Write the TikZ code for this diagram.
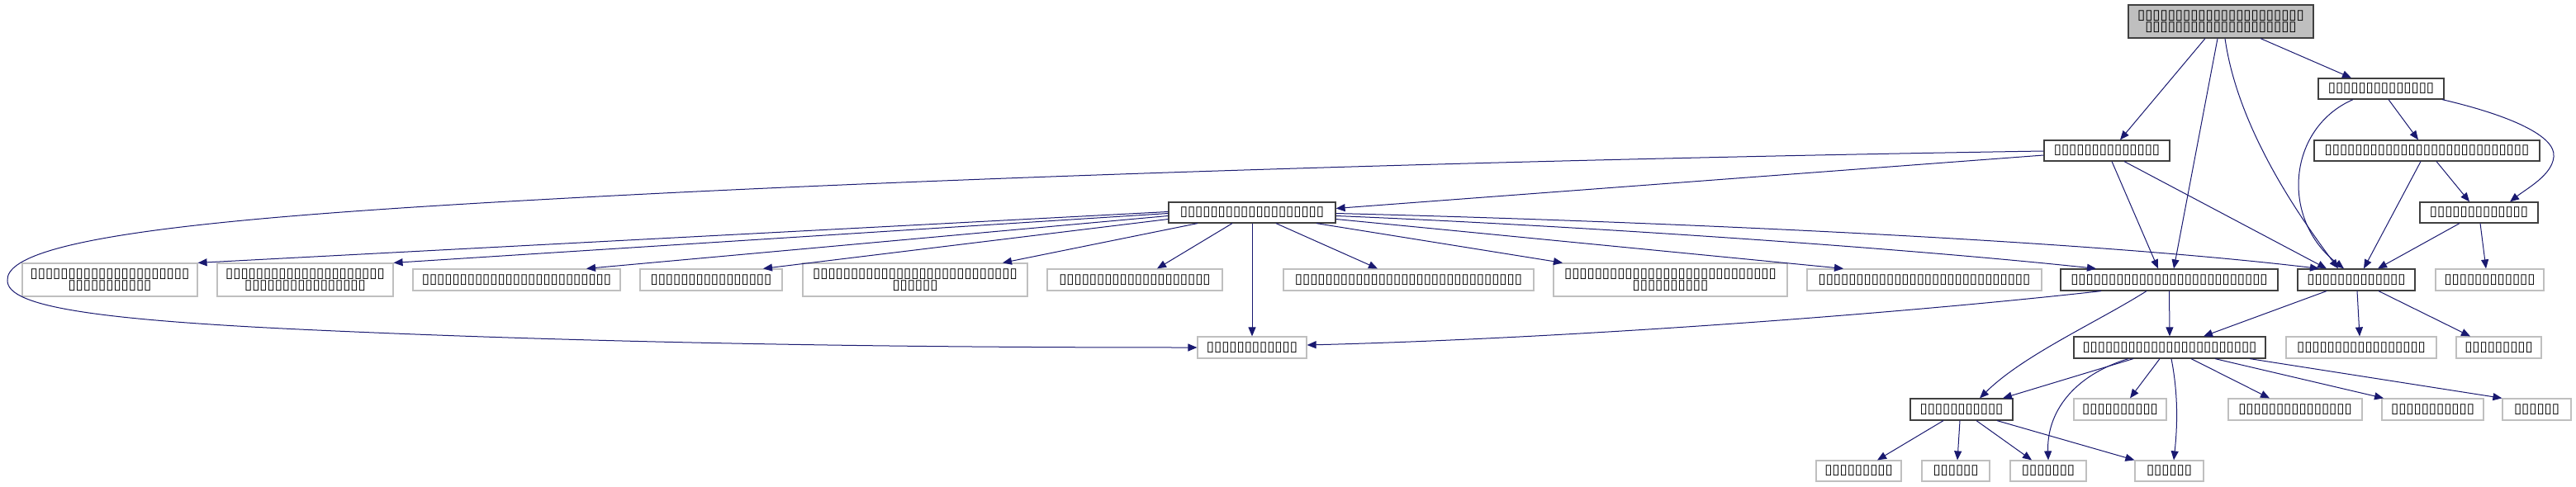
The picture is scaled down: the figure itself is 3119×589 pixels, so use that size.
\documentclass[tikz,border=0pt]{standalone}
\usepackage{fontspec}
\usetikzlibrary{arrows.meta,calc}
\newfontfamily\tofufam{DejaVu Sans}
\newlength\gw
\settowidth\gw{\tofufam\fontsize{10pt}{12pt}\selectfont ▯}
\pgfmathsetmacro\tsz{10*9.17/max(\gw,1pt)}
\definecolor{edgec}{HTML}{191970}
\definecolor{darkc}{HTML}{404040}
\definecolor{lightc}{HTML}{BFBFBF}
\definecolor{fillc}{HTML}{BFBFBF}
\tikzset{
  lbl/.style={font=\tofufam\fontsize{\tsz pt}{14.3pt}\selectfont, text=black, align=center, inner sep=0pt},
  dk/.style={lbl, draw=darkc, line width=1.2pt},
  lt/.style={lbl, draw=lightc, line width=1.2pt},
  sz/.style 2 args={minimum width=#1pt, minimum height=#2pt},
  e/.style={draw=edgec, line width=1pt, -{Triangle[length=11pt,width=9pt]}},
}
\begin{document}
\begin{tikzpicture}[x=1pt,y=-1pt]
\useasboundingbox (0,0) rectangle (3119,589);
% nodes
\node[dk,sz={224}{40},fill=fillc] (N0) at (2689,26) {▯▯▯▯▯▯▯▯▯▯▯▯▯▯▯▯▯▯▯▯▯▯\\▯▯▯▯▯▯▯▯▯▯▯▯▯▯▯▯▯▯▯▯};
\node[dk,sz={152}{25}] (N1) at (2883,107.5) {▯▯▯▯▯▯▯▯▯▯▯▯▯▯};
\node[dk,sz={152}{25}] (N2) at (2551,182.5) {▯▯▯▯▯▯▯▯▯▯▯▯▯▯};
\node[dk,sz={273}{25}] (N3) at (2938.5,182.5) {▯▯▯▯▯▯▯▯▯▯▯▯▯▯▯▯▯▯▯▯▯▯▯▯▯▯▯};
\node[dk,sz={143}{25}] (N4) at (3001.5,257.5) {▯▯▯▯▯▯▯▯▯▯▯▯▯};
\node[dk,sz={202}{25}] (H) at (1516,257.5) {▯▯▯▯▯▯▯▯▯▯▯▯▯▯▯▯▯▯▯};
\node[lt,sz={212}{40}] (L1) at (133,339) {▯▯▯▯▯▯▯▯▯▯▯▯▯▯▯▯▯▯▯▯▯\\▯▯▯▯▯▯▯▯▯▯▯};
\node[lt,sz={213}{40}] (L2) at (369.5,339) {▯▯▯▯▯▯▯▯▯▯▯▯▯▯▯▯▯▯▯▯▯\\▯▯▯▯▯▯▯▯▯▯▯▯▯▯▯▯};
\node[lt,sz={251}{26}] (L3) at (625.5,339) {▯▯▯▯▯▯▯▯▯▯▯▯▯▯▯▯▯▯▯▯▯▯▯▯▯};
\node[lt,sz={172}{26}] (L4) at (861,339) {▯▯▯▯▯▯▯▯▯▯▯▯▯▯▯▯};
\node[lt,sz={272}{40}] (L5) at (1108,339) {▯▯▯▯▯▯▯▯▯▯▯▯▯▯▯▯▯▯▯▯▯▯▯▯▯▯▯\\▯▯▯▯▯▯};
\node[lt,sz={212}{26}] (L6) at (1374,339) {▯▯▯▯▯▯▯▯▯▯▯▯▯▯▯▯▯▯▯▯};
\node[lt,sz={303}{26}] (L7) at (1705.5,339) {▯▯▯▯▯▯▯▯▯▯▯▯▯▯▯▯▯▯▯▯▯▯▯▯▯▯▯▯▯▯};
\node[lt,sz={283}{40}] (L8) at (2022.5,339) {▯▯▯▯▯▯▯▯▯▯▯▯▯▯▯▯▯▯▯▯▯▯▯▯▯▯▯▯\\▯▯▯▯▯▯▯▯▯▯};
\node[lt,sz={284}{26}] (L9) at (2330,339) {▯▯▯▯▯▯▯▯▯▯▯▯▯▯▯▯▯▯▯▯▯▯▯▯▯▯▯▯};
\node[dk,sz={263}{26}] (B1) at (2626.5,339) {▯▯▯▯▯▯▯▯▯▯▯▯▯▯▯▯▯▯▯▯▯▯▯▯▯▯};
\node[dk,sz={142}{26}] (B2) at (2853,339) {▯▯▯▯▯▯▯▯▯▯▯▯▯};
\node[lt,sz={131}{26}] (L10) at (3014.5,339) {▯▯▯▯▯▯▯▯▯▯▯▯};
\node[lt,sz={132}{26}] (T) at (1516,421) {▯▯▯▯▯▯▯▯▯▯▯▯};
\node[dk,sz={232}{26}] (C1) at (2627,421) {▯▯▯▯▯▯▯▯▯▯▯▯▯▯▯▯▯▯▯▯▯▯▯};
\node[lt,sz={182}{26}] (C2) at (2859,421) {▯▯▯▯▯▯▯▯▯▯▯▯▯▯▯▯▯};
\node[lt,sz={103}{26}] (C3) at (3025.5,421) {▯▯▯▯▯▯▯▯▯};
\node[dk,sz={124}{26}] (D1) at (2375,496) {▯▯▯▯▯▯▯▯▯▯▯};
\node[lt,sz={112}{26}] (D2) at (2567,496) {▯▯▯▯▯▯▯▯▯▯};
\node[lt,sz={162}{26}] (D3) at (2779,496) {▯▯▯▯▯▯▯▯▯▯▯▯▯▯▯};
\node[lt,sz={123}{26}] (D4) at (2945.5,496) {▯▯▯▯▯▯▯▯▯▯▯};
\node[lt,sz={83}{26}] (D5) at (3071.5,496) {▯▯▯▯▯▯};
\node[lt,sz={103}{25}] (E4) at (2250.5,570.5) {▯▯▯▯▯▯▯▯▯};
\node[lt,sz={82}{25}] (E1) at (2368,570.5) {▯▯▯▯▯▯};
\node[lt,sz={92}{25}] (E2) at (2480,570.5) {▯▯▯▯▯▯▯};
\node[lt,sz={83}{25}] (E3) at (2626.5,570.5) {▯▯▯▯▯▯};
% edges from N0
\draw[e] ($(N0.south)+(-19,0)$) -- ($(N2.north)+(16,0)$);
\draw[e] ($(N0.south)+(-4,0)$) -- ($(B1.north)+(5.5,0)$);
\draw[e] ($(N0.south)+(5,0)$) .. controls (2710,160) and (2790,270) .. ($(B2.north)+(-22,0)$);
\draw[e] ($(N0.south)+(48,0)$) -- ($(N1.north)+(-36,0)$);
% N1
\draw[e] ($(N1.south)+(-34,0)$) .. controls (2770,155) and (2760,265) .. ($(B2.north)+(-15,0)$);
\draw[e] ($(N1.south)+(9,0)$) -- ($(N3.north)+(-10.5,0)$);
\draw[e] ($(N1.south)+(74,0)$) .. controls (3040,140) and (3095,165) .. (3092,190) .. controls (3090,212) and (3060,228) .. ($(N4.north)+(37.5,0)$);
% N3, N4
\draw[e] ($(N3.south)+(-7.5,0)$) -- ($(B2.north)+(9,0)$);
\draw[e] ($(N3.south)+(11.5,0)$) -- ($(N4.north)+(-11.5,0)$);
\draw[e] ($(N4.south)+(-23.5,0)$) -- ($(B2.north)+(26,0)$);
\draw[e] ($(N4.south)+(1.5,0)$) -- ($(L10.north)+(-4.5,0)$);
% N2
\draw[e] ($(N2.west)+(0,5.5)$) -- ($(H.east)+(0,-5)$);
\draw[e] ($(N2.west)+(0,0.5)$) .. controls (1900,192) and (1200,212) .. (688,240) .. controls (300,261) and (5,285) .. (9,340) .. controls (9,372) and (120,388) .. (384,400) .. controls (800,419) and (1200,421) .. (T.west);
\draw[e] ($(N2.south)+(6,0)$) -- ($(B1.north)+(-13.5,0)$);
\draw[e] ($(N2.south)+(21,0)$) -- ($(B2.north)+(-36,0)$);
% H
\draw[e] ($(H.west)+(0,-1)$) -- (L1.north east);
\draw[e] ($(H.west)+(0,1)$) -- (L2.north east);
\draw[e] ($(H.west)+(0,4)$) -- ($(L3.north)+(84.5,0)$);
\draw[e] ($(H.west)+(0,8)$) -- ($(L4.north)+(63,0)$);
\draw[e] ($(H.south)+(-66,0)$) -- ($(L5.north)+(106,0)$);
\draw[e] ($(H.south)+(-24,0)$) -- ($(L6.north)+(27,0)$);
\draw[e] (H.south) -- (T.north);
\draw[e] ($(H.south)+(29,0)$) -- ($(L7.north)+(-37.5,0)$);
\draw[e] ($(H.south)+(78,0)$) -- ($(L8.north)+(-130.5,0)$);
\draw[e] ($(H.east)+(0,8)$) -- ($(L9.north)+(-98,0)$);
\draw[e] ($(H.east)+(0,4)$) .. controls (1900,273) and (2300,300) .. ($(B1.north)+(-88.5,0)$);
\draw[e] ($(H.east)+(0,1)$) .. controls (2000,268) and (2520,291) .. ($(B2.north)+(-45,0)$);
% B1
\draw[e] ($(B1.south)+(-82.5,0)$) .. controls (2300,380) and (1900,410) .. ($(T.east)+(0,-3)$);
\draw[e] (B1.south) -- (C1.north);
\draw[e] ($(B1.south)+(-27.5,0)$) .. controls (2540,390) and (2450,430) .. ($(D1.north)+(22,0)$);
% B2
\draw[e] ($(B2.south)+(-36,0)$) -- ($(C1.north)+(41,0)$);
\draw[e] ($(B2.south)+(1,0)$) -- ($(C2.north)+(-2,0)$);
\draw[e] ($(B2.south)+(27,0)$) -- ($(C3.north)+(-34.5,0)$);
% C1
\draw[e] ($(C1.south)+(-44,0)$) -- ($(D1.north)+(50,0)$);
\draw[e] ($(C1.south)+(-50,0)$) .. controls (2510,455) and (2478,500) .. (E2.north);
\draw[e] ($(C1.south)+(-12,0)$) -- ($(D2.north)+(12,0)$);
\draw[e] ($(C1.south)+(2,0)$) .. controls (2638,480) and (2636,520) .. ($(E3.north)+(5.5,0)$);
\draw[e] ($(C1.south)+(26,0)$) -- ($(D3.north)+(-31,0)$);
\draw[e] ($(C1.south)+(55,0)$) -- ($(D4.north)+(-59.5,0)$);
\draw[e] ($(C1.south)+(97,0)$) -- (D5.north west);
% D1
\draw[e] ($(D1.south)+(-22,0)$) -- ($(E4.north)+(22.5,0)$);
\draw[e] ($(D1.south)+(-2,0)$) -- ($(E1.north)+(2,0)$);
\draw[e] ($(D1.south)+(18,0)$) -- ($(E2.north)+(-20,0)$);
\draw[e] ($(D1.south)+(43,0)$) -- (E3.north west);
\end{tikzpicture}
\end{document}
